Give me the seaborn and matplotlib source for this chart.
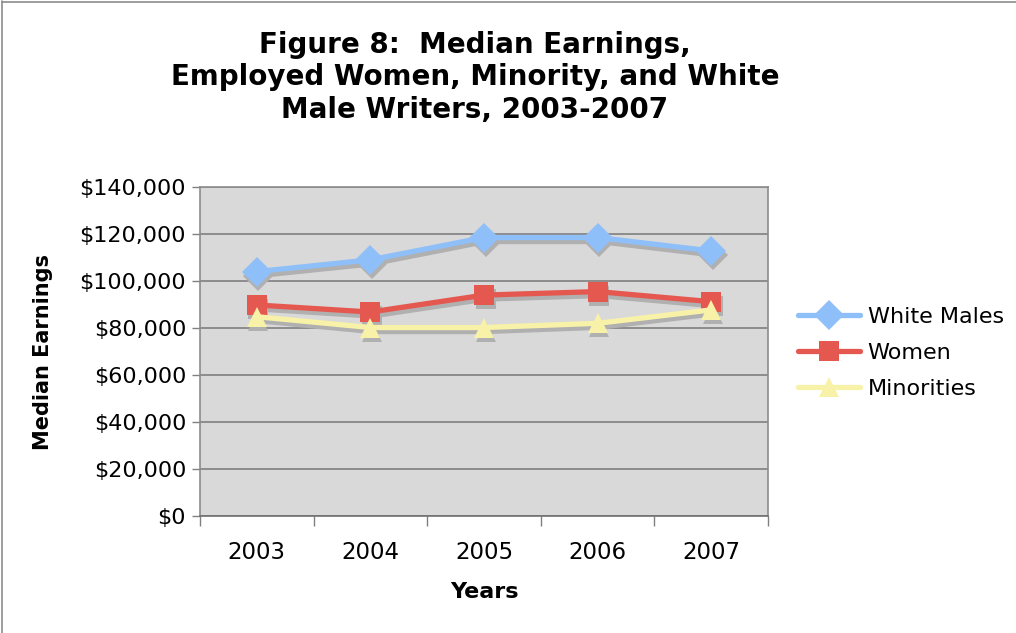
import matplotlib
matplotlib.use("Agg")
import matplotlib.pyplot as plt
import matplotlib.transforms as mtransforms
from matplotlib.lines import Line2D
import seaborn as sns
import pandas as pd

years = ["2003", "2004", "2005", "2006", "2007"]
white_males = [104000, 109000, 118500, 118500, 112800]
women = [89800, 86800, 94000, 95500, 91200]
minorities = [84800, 80200, 80200, 82000, 87700]

series = [
    ("White Males", white_males, "#8FBFF8", "D", 15),
    ("Women", women, "#E5584F", "s", 14),
    ("Minorities", minorities, "#F8F2A8", "^", 15),
]

sns.set_style("white")
plt.rcParams["font.family"] = ["DejaVu Sans"]
plt.rcParams["text.color"] = "black"
plt.rcParams["xtick.color"] = "#808080"
plt.rcParams["ytick.color"] = "#808080"
plt.rcParams["xtick.labelcolor"] = "black"
plt.rcParams["ytick.labelcolor"] = "black"
plt.rcParams["axes.labelcolor"] = "black"

fig = plt.figure(figsize=(10.16, 6.33), dpi=100)
ax = fig.add_axes([200 / 1016, 117 / 633, 568 / 1016, 329 / 633])
ax.set_facecolor("#D9D9D9")

xpos = list(range(len(years)))
shadow = mtransforms.offset_copy(ax.transData, fig=fig, x=1.5, y=-4, units="dots")

handles = []
for name, vals, color, mk, ms in series:
    df = pd.DataFrame({"x": xpos, "y": vals})
    sns.lineplot(data=df, x="x", y="y", ax=ax, color="#B0B0B0", linewidth=3.8,
                 marker=mk, markersize=ms, markeredgewidth=0, zorder=2)
    ax.lines[-1].set_transform(shadow)
    sns.lineplot(data=df, x="x", y="y", ax=ax, color=color, linewidth=3.8,
                 marker=mk, markersize=ms, markeredgewidth=0, zorder=3)
    handles.append(Line2D([], [], color=color, linewidth=3.8, marker=mk,
                          markersize=ms, markeredgewidth=0, label=name))

ax.set_xlim(-0.5, len(years) - 0.5)
ax.set_ylim(0, 140000)
ax.set_yticks(range(0, 140001, 20000))
ax.set_yticklabels([f"${v:,}" for v in range(0, 140001, 20000)], fontsize=16)
ax.set_xticks(xpos)
ax.set_xticklabels(years, fontsize=16.5)
ax.set_xticks([i - 0.5 for i in range(len(years) + 1)], minor=True)
ax.tick_params(axis="x", which="major", length=0, pad=18, bottom=False)
ax.tick_params(axis="x", which="minor", length=7, width=1, color="#808080",
               direction="out", bottom=True)
ax.tick_params(axis="y", length=6, width=1, color="#808080", direction="out", left=True, pad=4)
ax.grid(axis="y", color="#808080", linewidth=1.2)
ax.set_axisbelow(True)
for s in ax.spines.values():
    s.set_color("#8C8C8C")
    s.set_linewidth(1.2)
ax.spines["bottom"].set_color("#707070")

ax.set_xlabel("Years", fontsize=16, fontweight="bold", labelpad=13)
ax.set_ylabel("Median Earnings", fontsize=15, fontweight="bold", labelpad=19)

fig.text(475 / 1016, 1 - 31 / 633,
         "Figure 8:  Median Earnings,\nEmployed Women, Minority, and White\nMale Writers, 2003-2007",
         ha="center", va="top", fontsize=20, fontweight="bold", linespacing=1.2)

leg = ax.legend(handles=handles, loc="center left", bbox_to_anchor=(1.017, 0.495),
                frameon=False, fontsize=16, handlelength=2.8, handletextpad=0.35,
                labelspacing=0.72)

fig.add_artist(Line2D([2 / 1016, 2 / 1016], [0, 1 - 1 / 633], transform=fig.transFigure,
                      color="#8C8C8C", linewidth=1.2))
fig.add_artist(Line2D([2 / 1016, 1], [1 - 1.5 / 633, 1 - 1.5 / 633], transform=fig.transFigure,
                      color="#8C8C8C", linewidth=1.2))

fig.savefig("out.png", dpi=100)
